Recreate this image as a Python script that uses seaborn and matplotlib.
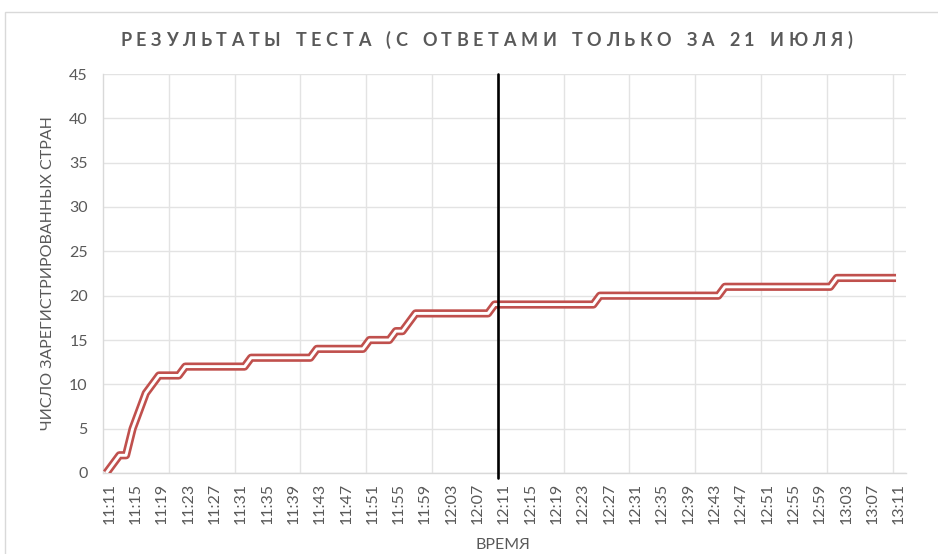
import numpy as np
import pandas as pd
import matplotlib
matplotlib.use("Agg")
import matplotlib.pyplot as plt
import matplotlib.transforms as mtransforms
from matplotlib.patches import Rectangle
from matplotlib.font_manager import FontProperties
import seaborn as sns

# ---- data -----------------------------------------------------------
title = "РЕЗУЛЬТАТЫ ТЕСТА (С ОТВЕТАМИ ТОЛЬКО ЗА 21 ИЮЛЯ)"
y_label = "ЧИСЛО ЗАРЕГИСТРИРОВАННЫХ СТРАН"
x_label = "ВРЕМЯ"
start_time = "2021-07-21 11:11"
marker_time = "12:11"
countries = [
    0, 1, 2, 2, 5, 7, 9, 10, 11, 11, 11, 11, 12,          # 11:11 - 11:23
    12, 12, 12, 12, 12, 12, 12, 12, 12,                   # 11:24 - 11:32
    13, 13, 13, 13, 13, 13, 13, 13, 13, 13,               # 11:33 - 11:42
    14, 14, 14, 14, 14, 14, 14, 14,                       # 11:43 - 11:50
    15, 15, 15, 15,                                       # 11:51 - 11:54
    16, 16, 17,                                           # 11:55 - 11:57
    18, 18, 18, 18, 18, 18, 18, 18, 18, 18, 18, 18,       # 11:58 - 12:09
    19, 19, 19, 19, 19, 19, 19, 19, 19, 19, 19, 19, 19, 19, 19, 19,   # 12:10 - 12:25
    20, 20, 20, 20, 20, 20, 20, 20, 20, 20, 20, 20, 20, 20, 20, 20, 20, 20, 20,  # 12:26 - 12:44
    21, 21, 21, 21, 21, 21, 21, 21, 21, 21, 21, 21, 21, 21, 21, 21, 21,  # 12:45 - 13:01
    22, 22, 22, 22, 22, 22, 22, 22, 22, 22,               # 13:02 - 13:11
]
y_ticks = [0, 5, 10, 15, 20, 25, 30, 35, 40, 45]

times = pd.date_range(start_time, periods=len(countries), freq="min").strftime("%H:%M").tolist()
tick_idx = list(range(0, len(times), 4))
tick_labels = [times[i] for i in tick_idx]

df = pd.DataFrame({"idx": np.arange(len(countries)), "time": times, "countries": countries})

# ---- style ----------------------------------------------------------
sns.set_style("white")
plt.rcParams["font.family"] = ["Lato", "DejaVu Sans"]
text_gray = "#595959"
grid_gray = "#e3e3e3"
axis_gray = "#d9d9d9"
red = "#C0504D"

W, H = 938, 554
fig = plt.figure(figsize=(W / 100, H / 100), dpi=100)
ax = fig.add_axes([103 / W, 1 - 473 / H, (905.9 - 103) / W, (473 - 74) / H])

# outer chart border
fig.add_artist(Rectangle((5 / W, -0.05), 1.1, 1.05 - 12 / H, transform=fig.transFigure,
                         fill=False, edgecolor=axis_gray, lw=1.0))

# double (compound) line: thick red with white core
sns.lineplot(data=df, x="idx", y="countries", ax=ax, color=red, lw=5.9,
             solid_capstyle="butt", zorder=3)
sns.lineplot(data=df, x="idx", y="countries", ax=ax, color="white", lw=2.1,
             solid_capstyle="butt", zorder=4)

# vertical marker at 12:11
mpos = times.index(marker_time) - 0.5
ax.axvline(mpos, ymin=-0.012, ymax=1, color="black", lw=1.9, zorder=5, clip_on=False)

ax.set_xlim(-0.5, len(countries) + 0.5)
ax.set_ylim(0, 45)

ax.set_yticks(y_ticks)
ax.set_yticklabels([str(v) for v in y_ticks])
ax.set_xticks(tick_idx)
ax.set_xticklabels(tick_labels, rotation=90)
ax.set_xticks(np.arange(9.5, len(countries) + 0.5, 10), minor=True)

ax.tick_params(axis="both", which="both", length=0, colors=text_gray)
ax.tick_params(axis="x", which="major", labelsize=11.5, pad=7)
ax.tick_params(axis="y", which="major", labelsize=11.5, pad=11)

offset = mtransforms.ScaledTranslation(3 / 100, 0, fig.dpi_scale_trans)
for lab in ax.get_xticklabels():
    lab.set_transform(lab.get_transform() + offset)

ax.grid(False)
ax.yaxis.grid(True, which="major", color=grid_gray, lw=1.0)
ax.xaxis.grid(True, which="minor", color=grid_gray, lw=1.0)
ax.set_axisbelow(True)

for s in ["top", "right"]:
    ax.spines[s].set_visible(False)
for s in ["left", "bottom"]:
    ax.spines[s].set_color(axis_gray)
    ax.spines[s].set_linewidth(1.0)

ax.set_xlabel("")
ax.set_ylabel("")
fig.text(48 / W, 1 - 273 / H, y_label, rotation=90, ha="center", va="center",
         fontsize=11.5, color=text_gray)
fig.text(503 / W, 1 - 545 / H, x_label, ha="center", va="center",
         fontsize=11.5, color=text_gray)

# letter-spaced title: place characters one by one
renderer = fig.canvas.get_renderer()
fp = FontProperties(family=["Lato", "DejaVu Sans"], weight="bold", size=13)
title_left, title_right, title_y = 120, 852, 1 - 40 / H
widths = []
for ch in title:
    if ch == " ":
        widths.append(None)
        continue
    t = fig.text(0, 0, ch, fontproperties=fp)
    widths.append(t.get_window_extent(renderer).width)
    t.remove()
n_chars = len(title)
word_gap = 6.0
letters_w = sum(w for w in widths if w is not None) + word_gap * title.count(" ")
tracking = (title_right - title_left - letters_w) / (n_chars - 1)
x = title_left
for ch, w in zip(title, widths):
    if w is None:
        x += word_gap + tracking
        continue
    fig.text(x / W, title_y, ch, fontproperties=fp, ha="left", va="center", color=text_gray)
    x += w + tracking

fig.savefig("out.png", dpi=100)
